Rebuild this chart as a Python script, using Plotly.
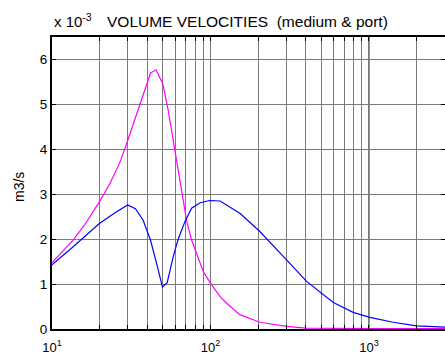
import plotly.graph_objects as go

# Frequencies (Hz) and volume velocities (units of 1e-3 m3/s)
freq_medium = [10, 13.6, 16, 19.9, 23.2, 26.9, 29.6, 34.2, 38.6, 41.9, 45.3, 50, 54.1, 59.7,
               65.7, 70.9, 76, 83.5, 90, 100, 115, 126, 153, 205, 302, 400, 600, 1000, 2000, 3100]
vel_medium = [1.48, 1.98, 2.31, 2.83, 3.24, 3.72, 4.13, 4.79, 5.31, 5.70, 5.77, 5.46, 4.87, 3.98,
              3.09, 2.39, 1.98, 1.61, 1.28, 1.02, 0.72, 0.58, 0.32, 0.15, 0.06, 0.02, 0.01, 0.01, 0.01, 0.01]

freq_port = [10, 13.6, 19.9, 25, 30, 33.6, 37.6, 41.8, 45.7, 49.8, 53.3, 58.2, 62.3, 69, 76, 86,
             99, 115, 154, 205, 302, 404, 596, 795, 1014, 1422, 1995, 3100]
vel_port = [1.43, 1.83, 2.35, 2.59, 2.76, 2.68, 2.42, 1.98, 1.46, 0.93, 1.03, 1.61, 1.98, 2.39,
            2.69, 2.81, 2.86, 2.85, 2.57, 2.17, 1.54, 1.06, 0.59, 0.37, 0.26, 0.15, 0.07, 0.04]

y_ticks = [0, 1, 2, 3, 4, 5, 6]
x_grid = [20, 30, 40, 50, 60, 70, 80, 90, 200, 300, 400, 500, 600, 700, 800, 900, 2000]
x_decades = [10, 100, 1000]
x_decade_labels = ["10<sup>1</sup>", "10<sup>2</sup>", "10<sup>3</sup>"]

FONT = "Liberation Sans, Arial, Helvetica, sans-serif"

fig = go.Figure()
fig.add_trace(go.Scatter(x=freq_medium, y=vel_medium, mode="lines",
                         line=dict(color="#ff00ff", width=1.2), showlegend=False))
fig.add_trace(go.Scatter(x=freq_port, y=vel_port, mode="lines",
                         line=dict(color="#0000ff", width=1.2), showlegend=False))

tickvals = x_decades + x_grid
ticktext = x_decade_labels + [" "] * len(x_grid)

fig.update_layout(
    width=445, height=358,
    margin=dict(l=52, r=0, t=37, b=29, autoexpand=False),
    paper_bgcolor="white", plot_bgcolor="white",
    font=dict(family=FONT, size=13, color="black"),
    xaxis=dict(type="log", range=[1, 3.48], tickvals=tickvals, ticktext=ticktext,
               ticks="inside", ticklen=4, tickcolor="black", tickwidth=1,
               showgrid=True, gridcolor="#7a7a7a", gridwidth=1,
               showline=True, linecolor="black", linewidth=2, mirror="ticks",
               zeroline=False, tickfont=dict(size=13), ticklabelstandoff=5),
    yaxis=dict(range=[0, 6.5], tickvals=y_ticks, ticktext=[str(v) for v in y_ticks],
               ticks="inside", ticklen=4, tickcolor="black", tickwidth=1,
               showgrid=True, gridcolor="#7a7a7a", gridwidth=1,
               showline=True, linecolor="black", linewidth=2, mirror="ticks",
               zeroline=False, tickfont=dict(size=13.5)),
)

for d in x_decades[1:]:
    fig.add_shape(type="line", xref="x", yref="paper", x0=d, x1=d, y0=0, y1=1,
                  line=dict(color="black", width=1), layer="below")

fig.add_annotation(text="x 10<sup>-3</sup>", xref="paper", yref="paper",
                   x=0, y=1, xanchor="left", yanchor="bottom", yshift=5,
                   showarrow=False, font=dict(size=15))
fig.add_annotation(text="VOLUME VELOCITIES\u00a0\u00a0(medium & port)", xref="paper", yref="paper",
                   x=(247.5 - 52) / 393, y=1, xanchor="center", yanchor="bottom", yshift=5,
                   showarrow=False, font=dict(size=15.5))
fig.add_annotation(text="m3/s", xref="paper", yref="paper",
                   x=(19 - 52) / 393, y=(329 - 187) / 292, xanchor="center", yanchor="middle",
                   textangle=-90, showarrow=False, font=dict(size=14))

fig.write_html("out.html", config={"displayModeBar": False, "staticPlot": True},
               post_script="document.body.style.margin='0';document.body.style.overflow='hidden';")
